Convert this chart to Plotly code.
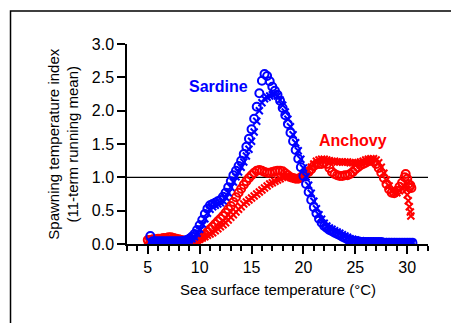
import plotly.graph_objects as go

# ---------------- data ----------------
sardine_temp = [5.0, 5.25, 5.5, 5.75, 6.0, 6.25, 6.5, 6.75, 7.0, 7.25, 7.5, 7.75, 8.0, 8.25, 8.5, 8.75,
                9.0, 9.25, 9.5, 9.75, 10.0, 10.25, 10.5, 10.75, 11.0, 11.25, 11.5, 11.75, 12.0, 12.25, 12.5, 12.75,
                13.0, 13.25, 13.5, 13.75, 14.0, 14.25, 14.5, 14.75, 15.0, 15.25, 15.5, 15.75, 16.0, 16.25, 16.5, 16.75,
                17.0, 17.25, 17.5, 17.75, 18.0, 18.25, 18.5, 18.75, 19.0, 19.25, 19.5, 19.75, 20.0, 20.25, 20.5, 20.75,
                21.0, 21.25, 21.5, 21.75, 22.0, 22.25, 22.5, 22.75, 23.0, 23.25, 23.5, 23.75, 24.0, 24.25, 24.5, 24.75,
                25.0, 25.25, 25.5, 25.75, 26.0, 26.25, 26.5, 26.75, 27.0, 27.25, 27.5, 27.75, 28.0, 28.25, 28.5, 28.75,
                29.0, 29.25, 29.5, 29.75, 30.0, 30.25, 30.5]

sardine_circle = [None, 0.12, 0.04, 0.04, 0.04, 0.04, 0.04, 0.04, 0.04, 0.04, 0.04, 0.04, 0.04, 0.04, 0.05, 0.06,
                  0.08, 0.11, 0.15, 0.21, 0.28, 0.36, 0.45, 0.53, 0.58, 0.60, 0.62, 0.64, 0.66, 0.71, 0.77, 0.85,
                  0.94, 1.03, 1.10, 1.17, 1.25, 1.35, 1.46, 1.58, 1.72, 1.88, 2.06, 2.26, 2.45, 2.55, 2.52, 2.44,
                  2.36, 2.30, 2.24, 2.15, 2.04, 1.93, 1.80, 1.67, 1.54, 1.41, 1.28, 1.15, 1.02, 0.90, 0.78, 0.66,
                  0.55, 0.46, 0.38, 0.32, 0.27, 0.24, 0.21, 0.19, 0.17, 0.15, 0.13, 0.11, 0.09, 0.07, 0.06, 0.05,
                  0.04, 0.04, 0.03, 0.03, 0.03, 0.03, 0.03, 0.03, 0.03, 0.03, 0.03, 0.02, 0.02, 0.02, 0.02, 0.02,
                  0.02, 0.02, 0.02, 0.02, 0.02, 0.02, 0.02]

sardine_cross = [None, 0.03, 0.03, 0.03, 0.03, 0.03, 0.03, 0.03, 0.03, 0.03, 0.03, 0.03, 0.03, 0.03, 0.03, 0.04,
                 0.06, 0.08, 0.11, 0.16, 0.22, 0.30, 0.38, 0.46, 0.52, 0.56, 0.58, 0.60, 0.62, 0.65, 0.70, 0.77,
                 0.85, 0.93, 1.01, 1.08, 1.15, 1.23, 1.32, 1.42, 1.54, 1.68, 1.84, 2.00, 2.12, 2.18, 2.20, 2.22,
                 2.24, 2.25, 2.22, 2.16, 2.08, 1.98, 1.87, 1.76, 1.64, 1.52, 1.40, 1.27, 1.14, 1.01, 0.88, 0.76,
                 0.64, 0.53, 0.44, 0.37, 0.31, 0.27, 0.24, 0.22, 0.20, 0.18, 0.16, 0.14, 0.12, 0.10, 0.08, 0.07,
                 0.06, 0.05, 0.05, 0.04, 0.04, 0.04, 0.04, 0.03, 0.03, 0.03, 0.03, 0.03, 0.03, 0.03, 0.03, 0.02,
                 0.02, 0.02, 0.02, 0.02, 0.02, 0.02, 0.02]

anchovy_circle_temp = [5.0, 5.25, 5.5, 5.75, 6.0, 6.25, 6.5, 6.75, 7.0, 7.25, 7.5, 7.75, 8.0, 8.25, 8.5, 8.75,
                       9.0, 9.25, 9.5, 9.75, 10.0, 10.25, 10.5, 10.75, 11.0, 11.25, 11.5, 11.75, 12.0, 12.25, 12.5, 12.75,
                       13.0, 13.25, 13.5, 13.75, 14.0, 14.25, 14.5, 14.75, 15.0, 15.25, 15.5, 15.75, 16.0, 16.25, 16.5, 16.75,
                       17.0, 17.25, 17.5, 17.75, 18.0, 18.25, 18.5, 18.75, 19.0, 19.25, 19.5, 19.75, 20.0, 20.25, 20.5, 20.75,
                       21.0, 21.25, 21.5, 21.75, 22.0, 22.25, 22.5, 22.75, 23.0, 23.25, 23.5, 23.75, 24.0, 24.25, 24.5, 24.75,
                       25.0, 25.25, 25.5, 25.75, 26.0, 26.25, 26.5, 26.75, 27.0, 27.25, 27.5, 27.75, 28.0, 28.25, 28.5, 28.75,
                       29.0, 29.25, 29.5, 29.75, 29.85, 30.0, 30.1, 30.2, 30.3, 30.4]

anchovy_circle = [0.06, 0.06, 0.07, 0.07, 0.08, 0.08, 0.09, 0.09, 0.10, 0.10, 0.09, 0.08, 0.07, 0.06, 0.05, 0.05,
                  0.04, 0.04, 0.04, 0.06, 0.08, 0.11, 0.14, 0.18, 0.22, 0.26, 0.30, 0.34, 0.38, 0.42, 0.47, 0.52,
                  0.57, 0.63, 0.70, 0.77, 0.83, 0.89, 0.94, 0.99, 1.03, 1.07, 1.10, 1.11, 1.10, 1.08, 1.07, 1.07,
                  1.08, 1.09, 1.10, 1.10, 1.09, 1.06, 1.03, 1.00, 0.99, 0.98, 0.98, 1.00, 1.03, 1.06, 1.08, 1.12,
                  1.17, 1.20, 1.20, 1.20, 1.22, 1.20, 1.14, 1.08, 1.05, 1.03, 1.02, 1.02, 1.03, 1.03, 1.05, 1.08,
                  1.12, 1.15, 1.18, 1.20, 1.22, 1.24, 1.25, 1.24, 1.20, 1.14, 1.07, 0.99, 0.90, 0.82, 0.77, 0.76,
                  0.80, 0.86, 0.92, 1.00, 1.05, 0.98, 0.90, 0.85, 0.88, 0.84]

anchovy_cross_temp = [5.0, 5.25, 5.5, 5.75, 6.0, 6.25, 6.5, 6.75, 7.0, 7.25, 7.5, 7.75, 8.0, 8.25, 8.5, 8.75,
                      9.0, 9.25, 9.5, 9.75, 10.0, 10.25, 10.5, 10.75, 11.0, 11.25, 11.5, 11.75, 12.0, 12.25, 12.5, 12.75,
                      13.0, 13.25, 13.5, 13.75, 14.0, 14.25, 14.5, 14.75, 15.0, 15.25, 15.5, 15.75, 16.0, 16.25, 16.5, 16.75,
                      17.0, 17.25, 17.5, 17.75, 18.0, 18.25, 18.5, 18.75, 19.0, 19.25, 19.5, 19.75, 20.0, 20.25, 20.5, 20.75,
                      21.0, 21.25, 21.5, 21.75, 22.0, 22.25, 22.5, 22.75, 23.0, 23.25, 23.5, 23.75, 24.0, 24.25, 24.5, 24.75,
                      25.0, 25.25, 25.5, 25.75, 26.0, 26.25, 26.5, 26.75, 27.0, 27.25, 27.5, 27.75, 28.0, 28.25, 28.5, 28.75,
                      29.0, 29.25, 29.5, 29.75, 29.9, 30.0, 30.1, 30.2, 30.3, 30.35]

anchovy_cross = [0.05, 0.05, 0.06, 0.06, 0.07, 0.07, 0.08, 0.08, 0.08, 0.08, 0.08, 0.07, 0.06, 0.05, 0.05, 0.04,
                 0.04, 0.03, 0.03, 0.05, 0.07, 0.09, 0.11, 0.13, 0.15, 0.17, 0.20, 0.23, 0.26, 0.29, 0.32, 0.36,
                 0.40, 0.44, 0.48, 0.52, 0.56, 0.60, 0.63, 0.66, 0.69, 0.72, 0.75, 0.78, 0.81, 0.84, 0.87, 0.90,
                 0.92, 0.94, 0.96, 0.98, 1.00, 1.01, 1.01, 1.00, 0.99, 0.98, 0.98, 0.99, 1.02, 1.06, 1.10, 1.15,
                 1.20, 1.24, 1.26, 1.27, 1.27, 1.26, 1.25, 1.24, 1.24, 1.23, 1.23, 1.23, 1.23, 1.23, 1.22, 1.22,
                 1.22, 1.22, 1.23, 1.24, 1.26, 1.27, 1.28, 1.28, 1.26, 1.22, 1.15, 1.06, 0.96, 0.87, 0.80, 0.77,
                 0.77, 0.80, 0.84, 0.86, 0.82, 0.74, 0.65, 0.56, 0.48, 0.42]

x_ticks = [5, 10, 15, 20, 25, 30]
y_ticks = [0.0, 0.5, 1.0, 1.5, 2.0, 2.5, 3.0]
reference_level = 1.0

BLUE = "#0000ff"
RED = "#ff0000"
FONT = "Liberation Sans, Arial, sans-serif"

fig = go.Figure()


def marker(symbol, size, color):
    return dict(symbol=symbol, size=size, color=color, line=dict(color=color, width=2))


fig.add_trace(go.Scatter(x=anchovy_cross_temp, y=anchovy_cross, mode="markers",
                         marker=marker("x-thin-open", 7, RED), showlegend=False))
fig.add_trace(go.Scatter(x=anchovy_circle_temp, y=anchovy_circle, mode="markers",
                         marker=marker("circle-open", 8, RED), showlegend=False))
fig.add_trace(go.Scatter(x=sardine_temp, y=sardine_cross, mode="markers",
                         marker=marker("x-thin-open", 7, BLUE), showlegend=False))
fig.add_trace(go.Scatter(x=sardine_temp, y=sardine_circle, mode="markers",
                         marker=marker("circle-open", 8, BLUE), showlegend=False))

# reference line at index 1.0
fig.add_shape(type="line", xref="paper", x0=0, x1=1, yref="y", y0=reference_level, y1=reference_level,
              line=dict(color="black", width=1.2), layer="below")

# outer frame (extends beyond the window on the right and bottom)
fig.add_shape(type="rect", xref="paper", yref="paper", x0=-0.387, x1=1.2, y0=-0.6, y1=1.165,
              line=dict(color="black", width=1.5), fillcolor="rgba(0,0,0,0)")

fig.add_annotation(x=11.8, y=2.37, text="<b>Sardine</b>", showarrow=False,
                   font=dict(family=FONT, size=16, color=BLUE))
fig.add_annotation(x=24.8, y=1.56, text="<b>Anchovy</b>", showarrow=False,
                   font=dict(family=FONT, size=16, color=RED))

fig.add_annotation(xref="paper", yref="paper", x=-0.2136, y=0.5, xanchor="center", yanchor="middle",
                   text="Spawning temperature index<br>(11-term running mean)", textangle=-90,
                   showarrow=False, font=dict(family=FONT, size=15, color="black"))
fig.add_annotation(xref="paper", yref="paper", x=0.5, y=-0.225, xanchor="center", yanchor="middle",
                   text="Sea surface temperature (°C)", showarrow=False,
                   font=dict(family=FONT, size=15, color="black"))

fig.update_layout(
    width=451, height=323,
    margin=dict(l=127, r=23, t=44, b=79),
    paper_bgcolor="white", plot_bgcolor="white",
    font=dict(family=FONT, size=15, color="black"),
    xaxis=dict(range=[3, 32], tickvals=x_ticks, ticks="outside", ticklen=8, tickwidth=1.5,
               tickcolor="black", showline=True, linecolor="black", linewidth=1.5,
               showgrid=False, zeroline=False,
               minor=dict(dtick=1, tick0=0, ticks="outside", ticklen=5, tickwidth=1.5, tickcolor="black"),
               tickfont=dict(family=FONT, size=16, color="black")),
    yaxis=dict(range=[0, 3], tickvals=y_ticks, tickformat=".1f", ticks="outside", ticklen=8,
               tickwidth=1.5, tickcolor="black", showline=True, linecolor="black", linewidth=1.5,
               showgrid=False, zeroline=False,
               tickfont=dict(family=FONT, size=16, color="black")),
)

fig.write_html("out.html", config={"displayModeBar": False})

# remove the browser's default page margin so the figure sits at the window origin
with open("out.html", "r", encoding="utf-8") as f:
    html = f.read()
html = html.replace("<head>", "<head><style>html,body{margin:0;padding:0;overflow:hidden;}</style>", 1)
with open("out.html", "w", encoding="utf-8") as f:
    f.write(html)
